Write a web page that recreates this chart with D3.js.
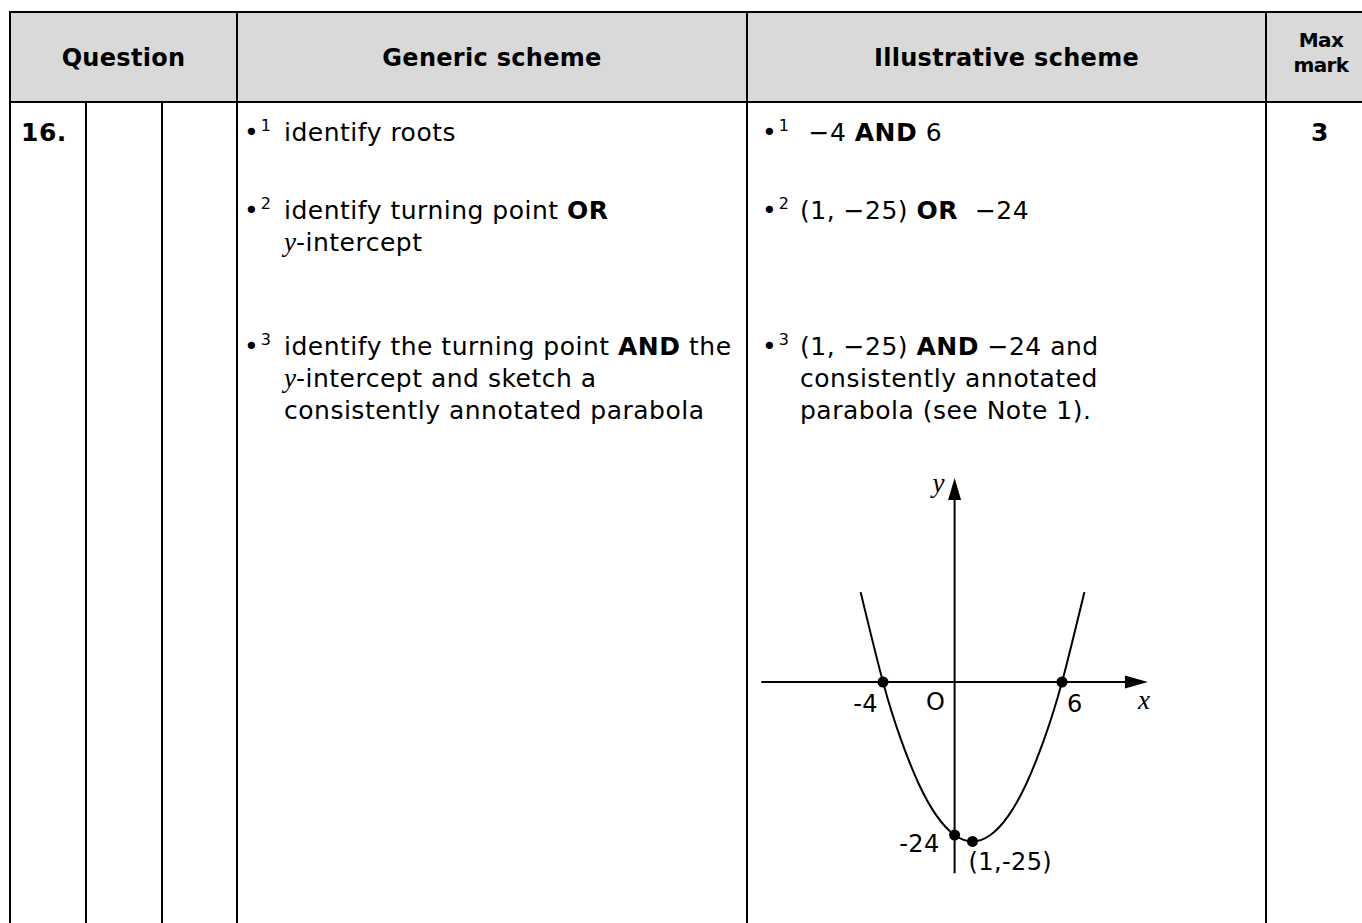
<!DOCTYPE html>
<html><head>
<meta charset="utf-8">
<title>Question 16 - marking instructions</title>
<script src="https://d3js.org/d3.v7.min.js"></script>
<style>
  body { margin: 0; background: #fff; }
  text { font-family: "DejaVu Sans", sans-serif; font-size: 25px; fill: #000; white-space: pre; }
  text.body { letter-spacing: 0.5px; }
  text.head { font-weight: bold; text-anchor: middle; font-size: 24px; letter-spacing: 0.3px; }
  text.small { font-size: 20px; letter-spacing: -0.6px; }
  text.label { font-size: 24px; letter-spacing: 0.4px; }
  .var { font-family: "Liberation Serif", serif; font-style: italic; letter-spacing: 0; }
  line.rule { stroke: #000; stroke-width: 2px; }
  line.axis { stroke: #000; stroke-width: 2px; }
  path.curve { fill: none; stroke: #000; stroke-width: 2px; }
</style>
</head><body>
<svg id="sheet" width="1362" height="923"></svg>
<script>

// ---- table content ----
const headers = ["Question", "Generic scheme", "Illustrative scheme"];
const maxHeader = ["Max", "mark"];
const questionNo = "16.";
const maxMark = "3";

// one entry per bullet point (numbered 1, 2, 3); each is a list of lines,
// each line a list of [text, style] with style "" plain, "b" bold, "v" maths variable
const genericPoints = [
  [ [["identify roots",""]] ],
  [ [["identify turning point ",""],["OR","b"]],
    [["y","v"],["-intercept",""]] ],
  [ [["identify the turning point ",""],["AND","b"],[" the",""]],
    [["y","v"],["-intercept and sketch a",""]],
    [["consistently annotated parabola",""]] ]
];
const illustrativePoints = [
  [ [[" \u22124 ",""],["AND","b"],[" 6",""]] ],
  [ [["(1, \u221225) ",""],["OR","b"],["  \u221224",""]] ],
  [ [["(1, \u221225) ",""],["AND","b"],[" \u221224 and",""]],
    [["consistently annotated",""]],
    [["parabola (see Note 1).",""]] ]
];

// ---- sketch data ----
const roots = [-4, 6];
const vertex = [1, -25];
const yIntercept = -24;
const curveX = [-5.25, -4, -3, -2, -1, 0, 1, 2, 3, 4, 5, 6, 7.25];
const curveY = [14.1, 0, -9, -16, -21, -24, -25, -24, -21, -16, -9, 0, 14.1];
const xAxisExtent = [-10.8, 10.8];
const yAxisExtent = [-30, 32];

const svg = d3.select("#sheet");

// ---- grid ----
const tableTop = 12, headBottom = 102, tableBottom = 923, tableRight = 1362;
const cols = [10, 86, 162, 237, 747, 1266];

svg.append("rect").attr("x", cols[0]).attr("y", tableTop)
   .attr("width", tableRight - cols[0]).attr("height", headBottom - tableTop)
   .attr("fill", "#d9d9d9");

[tableTop, headBottom].forEach(yy => {
  svg.append("line").attr("class", "rule")
     .attr("x1", cols[0] - 1).attr("x2", tableRight).attr("y1", yy).attr("y2", yy);
});
cols.forEach((cx, i) => {
  // the two inner question columns only start under the header
  const y1 = (i === 1 || i === 2) ? headBottom : tableTop;
  svg.append("line").attr("class", "rule")
     .attr("x1", cx).attr("x2", cx).attr("y1", y1).attr("y2", tableBottom);
});

// ---- header text ----
const headCentres = [(cols[0] + cols[3]) / 2, (cols[3] + cols[4]) / 2, (cols[4] + cols[5]) / 2];
headers.forEach((h, i) => {
  svg.append("text").attr("class", "head").attr("x", headCentres[i]).attr("y", 66).text(h);
});
maxHeader.forEach((h, i) => {
  svg.append("text").attr("class", "head small")
     .attr("x", 1321).attr("y", 47 + i * 25).text(h);
});

// ---- body ----
svg.append("text").attr("class", "body").attr("x", 21).attr("y", 141)
   .attr("font-weight", "bold").text(questionNo);
svg.append("text").attr("class", "body").attr("x", 1320).attr("y", 141)
   .attr("font-weight", "bold").attr("text-anchor", "middle").text(maxMark);

function writeLine(x0, y0, segs) {
  const t = svg.append("text").attr("class", "body").attr("x", x0).attr("y", y0);
  segs.forEach(([s, st]) => {
    const sp = t.append("tspan").text(s);
    if (st === "b") sp.attr("font-weight", "bold");
    if (st === "v") sp.attr("class", "var").attr("font-size", 27);
  });
}

const pointTops = [141, 219, 355];
const lineGap = 32;
function writePoints(points, bulletX, indentX) {
  points.forEach((pt, i) => {
    const b = svg.append("text").attr("x", bulletX).attr("y", pointTops[i]);
    b.append("tspan").text("\u2022");
    b.append("tspan").attr("font-size", 16).attr("dx", 2).attr("dy", -10).text(i + 1);
    pt.forEach((ln, j) => writeLine(indentX, pointTops[i] + j * lineGap, ln));
  });
}
writePoints(genericPoints, 244, 284);
writePoints(illustrativePoints, 762, 800);

// ---- sketch of the parabola ----
const x = d3.scaleLinear().domain([roots[0], roots[1]]).range([883, 1062]);
const y = d3.scaleLinear().domain([0, yIntercept]).range([682, 835]);
const g = svg.append("g");

g.append("line").attr("class", "axis")
 .attr("x1", x(xAxisExtent[0])).attr("x2", x(xAxisExtent[1]) - 10)
 .attr("y1", y(0)).attr("y2", y(0));
g.append("line").attr("class", "axis")
 .attr("x1", x(0)).attr("x2", x(0))
 .attr("y1", y(yAxisExtent[0])).attr("y2", y(yAxisExtent[1]) + 10);

// arrow heads
const xt = x(xAxisExtent[1]), yt = y(yAxisExtent[1]);
g.append("path").attr("fill", "#000")
 .attr("d", `M${xt},${y(0)} L${xt - 23},${y(0) - 6.5} L${xt - 23},${y(0) + 6.5} Z`);
g.append("path").attr("fill", "#000")
 .attr("d", `M${x(0)},${yt} L${x(0) - 6.5},${yt + 22} L${x(0) + 6.5},${yt + 22} Z`);

const curvePts = curveX.map((d, i) => [d, curveY[i]]);
g.append("path").attr("class", "curve")
 .attr("d", d3.line().x(d => x(d[0])).y(d => y(d[1])).curve(d3.curveNatural)(curvePts));

const marked = [[roots[0], 0], [roots[1], 0], [0, yIntercept], vertex];
g.selectAll("circle.pt").data(marked).join("circle")
 .attr("class", "pt").attr("r", 5.5)
 .attr("cx", d => x(d[0])).attr("cy", d => y(d[1]));

// annotations
const lab = (tx, ty, s, anchor) => g.append("text").attr("class", "label")
  .attr("x", tx).attr("y", ty).attr("text-anchor", anchor || "start").text(s);
lab(x(roots[0]) - 5, y(0) + 30, "-4", "end");
lab(x(0) - 19, y(0) + 28, "O", "middle");
lab(x(roots[1]) + 5, y(0) + 30, "6");
lab(x(0) - 15, y(yIntercept) + 17, "-24", "end");
lab(x(vertex[0]) - 4, y(vertex[1]) + 29, "(1,-25)");
g.append("text").attr("class", "var").style("font-size", "27px")
 .attr("x", xt - 10).attr("y", y(0) + 27).text("x");
g.append("text").attr("class", "var").style("font-size", "27px")
 .attr("x", x(0) - 10).attr("y", yt + 14).attr("text-anchor", "end").text("y");

</script>
</body>
</html>
